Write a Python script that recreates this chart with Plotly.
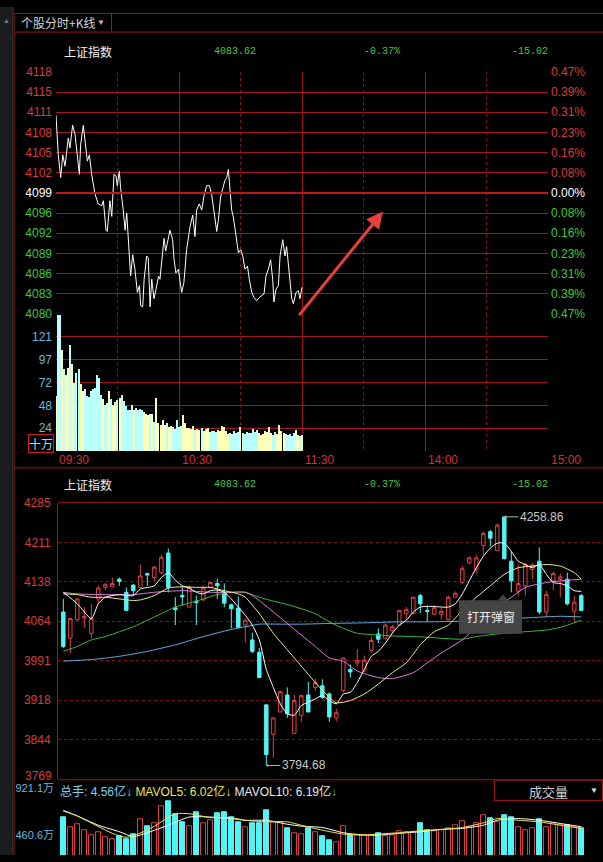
import numpy as np
import plotly.graph_objects as go

W, H = 603, 862
def px(x): return x / W
def py(y): return 1 - y / H

# ---------------- data ----------------
index_name = "上证指数"
last_price = "4083.62"
pct_change = "-0.37%"
abs_change = "-15.02"
prev_close = 4098.64
band_pct = 0.47

intraday_minutes = [0, 1.1, 2.3, 3.3, 4.4, 6.0, 6.8, 8.1, 9.3, 10.4,
    11.4, 12.0, 13.3, 15.3, 16.3, 17.4, 19.0, 20.6, 22.3, 23.1,
    24.4, 25.0, 26.3, 27.2, 28.3, 29.3, 29.9, 30.9, 31.5, 32.8,
    33.7, 34.5, 35.3, 36.4, 37.4, 38.5, 39.7, 40.7, 41.3, 42.3,
    43.0, 44.2, 45.0, 45.9, 46.7, 47.8, 48.8, 50.0, 50.7, 52.0,
    52.7, 53.5, 54.5, 55.6, 56.9, 57.6, 58.5, 59.7, 61.3, 62.4,
    63.7, 64.6, 65.4, 66.7, 67.8, 68.6, 69.9, 71.1, 72.2, 73.5,
    74.8, 75.9, 77.1, 78.4, 79.2, 80.3, 81.3, 82.4, 83.3, 84.1,
    84.9, 85.7, 86.5, 87.8, 89.0, 90.1, 91.1, 92.2, 93.4, 94.3,
    95.5, 96.6, 97.9, 99.2, 100.3, 101.5, 102.4, 103.6, 104.7, 105.7,
    106.3, 107.3, 108.5, 109.3, 110.6, 111.7, 112.5, 113.8, 115.0, 115.8,
    117.1, 118.2, 119.0, 120.0]
intraday_prices = [4111.0, 4104.7, 4101.1, 4104.7, 4102.9, 4107.4, 4105.8, 4109.4, 4107.9, 4104.3,
    4101.6, 4106.3, 4109.4, 4103.7, 4104.7, 4101.6, 4098.5, 4096.9, 4096.6, 4097.4,
    4092.7, 4092.5, 4097.4, 4094.9, 4101.6, 4101.3, 4099.8, 4102.1, 4099.5, 4095.9,
    4092.7, 4095.4, 4091.2, 4085.4, 4088.8, 4086.5, 4082.8, 4083.9, 4080.7, 4080.5,
    4084.9, 4088.6, 4088.3, 4080.5, 4084.9, 4081.8, 4083.3, 4085.4, 4084.9, 4089.6,
    4091.4, 4089.4, 4091.2, 4092.7, 4091.2, 4088.0, 4085.9, 4086.5, 4082.8, 4084.4,
    4089.6, 4091.7, 4093.3, 4095.1, 4091.7, 4095.9, 4096.9, 4095.9, 4098.2, 4099.8,
    4099.8, 4098.5, 4095.4, 4092.5, 4094.3, 4098.0, 4099.3, 4100.6, 4101.1, 4102.4,
    4099.0, 4095.9, 4094.8, 4091.7, 4089.1, 4089.6, 4088.6, 4086.5, 4087.0, 4084.9,
    4082.8, 4082.0, 4081.5, 4082.0, 4082.3, 4082.6, 4085.4, 4086.5, 4088.0, 4084.9,
    4081.3, 4083.3, 4083.9, 4088.6, 4091.2, 4088.6, 4090.1, 4085.9, 4081.8, 4081.0,
    4082.8, 4083.1, 4081.8, 4083.62]
minute_volume = [58.8, 143.8, 143.8, 107.4, 86.6, 80.7, 88.3, 111.9, 92.4, 72.7,
    83.1, 86.6, 71.0, 64.0, 65.8, 58.8, 57.0, 64.0, 65.8, 67.4,
    80.7, 77.9, 59.8, 55.4, 48.4, 50.8, 63.3, 55.4, 49.4, 51.8,
    54.3, 56.4, 59.8, 53.6, 47.4, 43.9, 43.2, 48.4, 43.9, 46.0,
    43.9, 45.0, 43.9, 41.4, 39.8, 38.7, 39.0, 39.8, 31.0, 56.4,
    30.0, 27.6, 32.8, 27.6, 30.0, 25.8, 26.5, 25.8, 23.1, 32.8,
    25.8, 26.5, 38.0, 30.0, 24.1, 24.1, 23.1, 26.5, 22.4, 23.1,
    22.4, 24.1, 21.7, 23.1, 24.1, 20.6, 21.7, 21.7, 20.6, 22.4,
    21.7, 26.5, 25.8, 21.7, 18.2, 19.6, 18.2, 21.7, 19.6, 20.6,
    25.2, 19.6, 18.2, 20.6, 19.6, 19.0, 23.1, 20.6, 22.4, 19.6,
    17.2, 18.2, 21.7, 20.6, 25.2, 19.0, 17.2, 20.6, 18.2, 27.6,
    21.7, 19.6, 18.2, 17.2, 18.2, 16.1, 19.0, 22.4, 17.2, 16.1, 17.2]
price_tick_text = ["4118", "4115", "4111", "4108", "4105", "4102", "4099",
                   "4096", "4092", "4089", "4086", "4083", "4080"]
pct_tick_text = ["0.47%", "0.39%", "0.31%", "0.23%", "0.16%", "0.08%", "0.00%",
                 "0.08%", "0.16%", "0.23%", "0.31%", "0.39%", "0.47%"]
minvol_tick_vals = [24.2, 48.4, 72.6, 96.8, 121.0]
minvol_tick_text = ["24", "48", "72", "97", "121"]
minvol_max = 145.2
time_ticks = [0, 60, 120, 180, 240]
time_minor = [30, 90, 150, 210]
time_labels = ["09:30", "10:30", "11:30", "14:00", "15:00"]

k_open = [4081.2, 4032.2, 4067.1, 4070.0, 4041.4, 4105.6, 4127.1, 4128.3, 4142.4, 4117.9,
    4131.4, 4127.1, 4152.8, 4145.4, 4154.6, 4191.3, 4089.1, 4111.8, 4090.4, 4101.4,
    4103.8, 4127.1, 4134.4, 4117.9, 4094.6, 4088.5, 4056.7, 4029.1, 4005.9, 3907.9,
    3852.9, 3894.5, 3926.3, 3854.7, 3888.4, 3926.3, 3940.4, 3943.5, 3928.1, 3883.5,
    3934.3, 3974.1, 3986.3, 3971.0, 4009.6, 4040.2, 4032.2, 4046.3, 4056.7, 4078.1,
    4078.1, 4111.8, 4084.2, 4076.9, 4076.9, 4067.1, 4108.7, 4136.3, 4173.0, 4160.7,
    4205.4, 4231.1, 4195.6, 4258.7, 4176.0, 4119.7, 4130.1, 4160.7, 4176.0, 4081.2,
    4139.3, 4142.4, 4142.4, 4083.0, 4111.8]
k_high = [4105.6, 4070.0, 4106.0, 4090.0, 4096.5, 4130.1, 4136.2, 4145.4, 4145.4, 4127.1,
    4133.2, 4170.0, 4154.6, 4166.9, 4188.3, 4199.3, 4108.7, 4128.3, 4130.1, 4111.8,
    4130.1, 4136.2, 4143.6, 4134.4, 4096.5, 4110.0, 4069.0, 4042.6, 4013.8, 3907.9,
    3883.5, 3934.3, 3940.4, 3926.3, 3926.3, 3950.8, 3956.9, 3955.7, 3931.2, 3900.6,
    3995.5, 3983.2, 4012.0, 3999.8, 4035.3, 4050.6, 4059.8, 4056.7, 4084.2, 4090.4,
    4108.7, 4114.8, 4093.4, 4093.4, 4088.5, 4111.8, 4119.7, 4166.9, 4185.2, 4188.3,
    4231.1, 4234.2, 4246.4, 4258.86, 4194.4, 4170.0, 4173.0, 4173.0, 4201.7, 4121.0,
    4156.5, 4152.8, 4154.6, 4111.8, 4114.8]
k_low = [4013.9, 4004.7, 4064.6, 4052.0, 4032.2, 4097.7, 4122.2, 4127.1, 4130.1, 4082.4,
    4111.8, 4127.1, 4130.1, 4139.3, 4151.6, 4117.9, 4056.7, 4093.4, 4090.4, 4056.7,
    4101.4, 4125.9, 4105.6, 4090.4, 4050.6, 4050.6, 4024.2, 4004.7, 3958.7, 3794.68,
    3808.8, 3894.5, 3883.5, 3854.7, 3876.1, 3894.5, 3934.3, 3919.0, 3876.1, 3877.3,
    3931.2, 3958.7, 3980.2, 3971.0, 4004.7, 4023.0, 4032.2, 4041.4, 4054.8, 4065.9,
    4076.9, 4079.3, 4062.8, 4075.0, 4067.1, 4065.9, 4107.5, 4133.2, 4169.9, 4152.8,
    4188.3, 4203.6, 4195.6, 4179.1, 4117.9, 4111.8, 4111.8, 4142.4, 4076.9, 4072.0,
    4122.2, 4108.7, 4093.4, 4062.8, 4083.0]
k_close = [4016.9, 4068.9, 4105.6, 4073.0, 4068.9, 4125.9, 4132.0, 4134.4, 4138.1, 4084.2,
    4121.0, 4148.5, 4150.3, 4165.0, 4183.4, 4127.1, 4085.5, 4109.4, 4127.1, 4099.0,
    4125.9, 4136.2, 4130.1, 4097.7, 4087.3, 4052.4, 4065.9, 4007.7, 3958.7, 3814.9,
    3883.5, 3932.4, 3891.4, 3915.9, 3925.1, 3894.5, 3949.6, 3922.0, 3885.3, 3893.3,
    3995.5, 3969.2, 3991.2, 3991.2, 4028.1, 4030.4, 4056.7, 4053.6, 4084.2, 4085.5,
    4108.7, 4096.5, 4082.4, 4089.1, 4082.4, 4108.7, 4116.1, 4161.9, 4182.2, 4182.2,
    4228.1, 4218.9, 4243.4, 4180.9, 4139.3, 4134.4, 4169.9, 4168.7, 4081.2, 4113.6,
    4152.8, 4146.7, 4096.5, 4099.5, 4084.2]
k_volume = [662, 573, 598, 540, 492, 515, 470, 451, 477, 454,
    502, 650, 583, 611, 774, 822, 694, 621, 583, 717,
    605, 636, 707, 717, 669, 617, 566, 605, 605, 732,
    621, 621, 557, 509, 505, 557, 515, 483, 444, 419,
    579, 486, 492, 492, 492, 509, 483, 492, 525, 515,
    515, 605, 540, 534, 540, 557, 588, 630, 573, 611,
    684, 653, 621, 684, 662, 566, 540, 557, 643, 573,
    605, 588, 588, 573, 557]
k_tick_text = ["4285", "4211", "4138", "4064", "3991", "3918", "3844", "3769"]
k_top, k_bottom = 4285, 3769
k_high_label = "4258.86"
k_low_label = "3794.68"

ma5_idx = [0, 2, 4, 5, 6, 8, 10, 11] + list(range(13, 75))
ma5_val = [4118.0, 4096.5, 4068.9, 4096.5, 4108.7, 4113.6, 4111.8, 4124.0,
    4130.1, 4145.4, 4154.6, 4140.6, 4130.1, 4125.9, 4118.0, 4114.9, 4121.0, 4122.2,
    4118.0, 4105.6, 4090.4, 4075.0, 4056.7, 4029.1, 3974.1, 3940.4, 3909.8, 3891.4,
    3888.4, 3906.7, 3912.8, 3919.0, 3925.1, 3915.9, 3909.8, 3928.1, 3931.2, 3949.6,
    3974.1, 3998.5, 4007.7, 4023.0, 4041.4, 4056.7, 4065.9, 4081.2, 4090.4, 4091.6,
    4091.6, 4090.4, 4090.4, 4096.5, 4114.9, 4139.3, 4163.8, 4185.2, 4200.5, 4209.7,
    4209.7, 4194.4, 4176.0, 4169.9, 4163.8, 4169.9, 4151.6, 4136.2, 4134.4, 4130.1,
    4121.0, 4119.7]
ma10_idx = [0, 2, 4, 6, 8, 10, 11, 13, 15, 17, 19, 21, 23, 25, 26, 28, 30, 32, 34, 36,
    38, 39, 41, 43, 45, 47, 49, 51, 53, 55, 57, 59, 61, 63, 65, 67, 69, 71, 73, 74]
ma10_val = [4114.9, 4113.6, 4108.7, 4108.7, 4105.6, 4102.6, 4103.8, 4111.8, 4125.9, 4128.3,
    4127.1, 4127.1, 4121.0, 4114.9, 4108.7, 4078.1, 4041.4, 4010.8, 3980.2, 3949.6,
    3922.0, 3911.6, 3915.9, 3928.1, 3946.5, 3968.0, 3986.3, 4019.9, 4044.4, 4056.7,
    4084.2, 4108.7, 4130.1, 4151.6, 4163.8, 4166.9, 4169.9, 4166.9, 4154.6, 4142.4]
ma20_idx = [0, 2, 6, 10, 13, 17, 21, 24, 26, 27, 28, 30, 32, 34, 36, 38, 40, 42, 45, 47,
    50, 52, 54, 57, 59, 62, 64, 66, 69, 71, 74]
ma20_val = [4118.0, 4114.9, 4113.6, 4113.6, 4118.0, 4121.0, 4118.0, 4118.0, 4118.0, 4111.8,
    4102.6, 4081.2, 4059.8, 4038.3, 4016.9, 3995.5, 3989.4, 3971.0, 3958.8, 3956.9,
    3968.0, 3986.3, 4004.7, 4029.1, 4053.6, 4090.4, 4108.7, 4127.1, 4136.2, 4139.3, 4142.4]
ma30_idx = [0, 2, 4, 6, 8, 10, 12, 14, 16, 18, 20, 22, 24, 26, 28, 30, 32, 34, 36, 38,
    40, 42, 45, 47, 50, 52, 54, 57, 59, 62, 64, 66, 69, 71, 74]
ma30_val = [4007.7, 4016.9, 4029.1, 4035.3, 4044.4, 4053.6, 4065.9, 4078.1, 4090.4, 4097.7,
    4105.6, 4113.6, 4118.0, 4118.0, 4108.7, 4101.4, 4095.3, 4087.3, 4078.1, 4062.8,
    4050.6, 4041.4, 4038.3, 4036.5, 4035.3, 4034.1, 4032.2, 4030.4, 4035.3, 4040.2,
    4042.6, 4044.4, 4047.5, 4052.4, 4065.9]
ma60_idx = [0, 4, 8, 12, 16, 20, 24, 26, 28, 31, 34, 38, 43, 48, 52, 57, 62, 67, 71, 74]
ma60_val = [3989.4, 3992.4, 3998.5, 4007.7, 4019.9, 4035.3, 4048.7, 4053.6, 4058.5, 4058.5,
    4058.5, 4059.8, 4061.0, 4062.8, 4062.8, 4064.0, 4067.1, 4070.8, 4073.2, 4072.0]

mavol5_idx = [0, 2, 7, 9, 12, 14, 16, 18, 21, 24, 26, 29, 32, 34, 37, 40, 43, 45, 48, 51,
    54, 57, 60, 62, 65, 68, 71, 74]
mavol5_val = [727, 678, 509, 470, 540, 621, 700, 700, 662, 662, 636, 621, 621, 588, 540,
    502, 492, 502, 515, 534, 547, 566, 611, 653, 636, 621, 588, 557]
mavol10_idx = [0, 2, 5, 8, 10, 12, 15, 18, 21, 24, 26, 29, 32, 34, 37, 40, 43, 45, 48, 51,
    54, 57, 60, 62, 65, 68, 71, 74]
mavol10_val = [733, 678, 588, 525, 477, 515, 588, 668, 668, 653, 636, 636, 598, 579, 566,
    515, 492, 492, 509, 525, 547, 557, 588, 636, 653, 636, 605, 573]
vol_tick_vals = [921.1, 460.6]
vol_tick_text = ["921.1万", "460.6万"]
vol_legend = ["总手: 4.56亿↓", "MAVOL5: 6.02亿↓", "MAVOL10: 6.19亿", "↓"]

# ---------------- styles ----------------
BG = "#000000"
GRID = "#a3141e"
GRID_DIM = "#781818"
RED_TXT = "#d83c3c"
GREEN_TXT = "#3cc83c"
UP = "#e04040"
DOWN = "#50f4f4"
VOLBLUE = "#6ab8dc"
SANS = "Liberation Sans, Noto Sans CJK SC, sans-serif"
CJK = "Noto Sans CJK SC, sans-serif"
MONO = "Liberation Mono, DejaVu Sans Mono, monospace"

fig = go.Figure()

# intraday price line
fig.add_trace(go.Scatter(x=intraday_minutes, y=intraday_prices, mode="lines",
                         line=dict(color="#ffffff", width=1), xaxis="x", yaxis="y",
                         hoverinfo="skip"))
# invisible trace to keep right axis alive
fig.add_trace(go.Scatter(x=[None], y=[None], xaxis="x", yaxis="y2", showlegend=False))

# intraday minute volume
mins = np.arange(len(minute_volume))
p_now = np.interp(mins, intraday_minutes, intraday_prices)
p_prev = np.interp(np.maximum(mins - 1, 0), intraday_minutes, intraday_prices)
mv_colors = ["#ffffb8" if a >= b else "#b8ffff" for a, b in zip(p_now, p_prev)]
fig.add_trace(go.Bar(x=mins, y=minute_volume, width=0.5, marker=dict(color=mv_colors, line=dict(width=0)),
                     xaxis="x2", yaxis="y3", hoverinfo="skip"))

# K-line
kidx = np.arange(len(k_open))
fig.add_trace(go.Candlestick(x=kidx, open=k_open, high=k_high, low=k_low, close=k_close,
                             xaxis="x3", yaxis="y4", whiskerwidth=0,
                             increasing=dict(line=dict(color=UP, width=1), fillcolor=BG),
                             decreasing=dict(line=dict(color=DOWN, width=1), fillcolor=DOWN),
                             hoverinfo="skip"))
for ix, iv, col in [(ma60_idx, ma60_val, "#5aaee0"), (ma30_idx, ma30_val, "#3cb83c"),
                    (ma20_idx, ma20_val, "#e07ce0"), (ma10_idx, ma10_val, "#f0f08c"),
                    (ma5_idx, ma5_val, "#ffffff")]:
    fig.add_trace(go.Scatter(x=ix, y=iv, mode="lines", line=dict(color=col, width=1, shape="spline", smoothing=0.6),
                             xaxis="x3", yaxis="y4", hoverinfo="skip"))

# daily volume
vup = [c >= o for o, c in zip(k_open, k_close)]
fig.add_trace(go.Bar(x=kidx, y=k_volume, width=0.7,
                     marker=dict(color=[BG if u else DOWN for u in vup],
                                 line=dict(color=[UP if u else DOWN for u in vup], width=1)),
                     xaxis="x4", yaxis="y5", hoverinfo="skip"))
for ix, iv, col in [(mavol10_idx, mavol10_val, "#ffffff"), (mavol5_idx, mavol5_val, "#e8e850")]:
    fig.add_trace(go.Scatter(x=ix, y=iv, mode="lines", line=dict(color=col, width=1, shape="spline", smoothing=0.6),
                             xaxis="x4", yaxis="y5", hoverinfo="skip"))

# ---------------- axes ----------------
half = prev_close * band_pct / 100
step = half / 6
p_ticks = [prev_close + k * step for k in range(6, -7, -1)]
def colorize(texts):
    out = []
    for i, t in enumerate(texts):
        c = RED_TXT if i < 6 else ("#ffffff" if i == 6 else GREEN_TXT)
        out.append(f"<span style='color:{c}'>{t}</span>")
    return out

k_ticks = list(np.linspace(k_top, k_bottom, len(k_tick_text)))
vol_bottom = 297.8
vol_top = 1026.6

common_x = dict(range=[0, 240], tickvals=time_ticks, showticklabels=False, ticks="",
                showgrid=True, gridcolor=GRID, gridwidth=1, zeroline=False,
                minor=dict(tickvals=time_minor, showgrid=True, gridcolor=GRID_DIM, griddash="dot", gridwidth=1),
                fixedrange=True)

fig.update_layout(
    width=W, height=H, margin=dict(l=0, r=0, t=0, b=0), autosize=False,
    paper_bgcolor=BG, plot_bgcolor=BG, showlegend=False,
    font=dict(family=SANS, size=12, color="#c8c8c8"),
    barmode="overlay", bargap=0,
    xaxis=dict(domain=[px(56), px(548)], anchor="y", **common_x),
    yaxis=dict(domain=[py(312), py(66)], anchor="x", range=[prev_close - half, prev_close + half],
               tickvals=p_ticks, ticktext=colorize(price_tick_text), ticks="", ticklabelstandoff=3,
               showgrid=True, gridcolor=GRID, gridwidth=1, zeroline=False,
               tickfont=dict(family=SANS, size=12)),
    yaxis2=dict(overlaying="y", anchor="x", side="right", range=[prev_close - half, prev_close + half],
                tickvals=p_ticks, ticktext=colorize(pct_tick_text), ticks="", ticklabelstandoff=2,
                showgrid=False, zeroline=False, tickfont=dict(family=SANS, size=12)),
    xaxis2=dict(domain=[px(56), px(548)], anchor="y3", **common_x),
    yaxis3=dict(domain=[py(451.5), py(312)], anchor="x2", range=[0, minvol_max],
                tickvals=[0] + minvol_tick_vals, ticktext=[""] + minvol_tick_text, ticks="",
                ticklabelstandoff=3, showgrid=True, gridcolor=GRID, gridwidth=1, zeroline=False,
                tickfont=dict(family=SANS, size=12, color=VOLBLUE)),
    xaxis3=dict(domain=[px(58), 1], anchor="y4", range=[-0.76, 77.1], showticklabels=False,
                showgrid=False, zeroline=False, rangeslider=dict(visible=False), ticks=""),
    yaxis4=dict(domain=[py(785), py(504)], anchor="x3", range=[k_bottom, k_top],
                tickvals=k_ticks, ticktext=k_tick_text[:-1] + [""], ticks="", ticklabelstandoff=4,
                showgrid=True, gridcolor=GRID_DIM, griddash="dot", gridwidth=1, zeroline=False,
                showline=True, linecolor=GRID, linewidth=1,
                tickfont=dict(family=SANS, size=12, color=RED_TXT)),
    xaxis4=dict(domain=[px(58), 1], anchor="y5", range=[-0.76, 77.1], showticklabels=False,
                showgrid=False, zeroline=False, ticks=""),
    yaxis5=dict(domain=[0, py(786)], anchor="x4", range=[vol_bottom, vol_top],
                tickvals=vol_tick_vals, ticktext=vol_tick_text, ticks="", ticklabelstandoff=3,
                showgrid=False, zeroline=False, ticklabelshift=-3,
                tickfont=dict(family=SANS, size=11, color=VOLBLUE)),
)

# ---------------- shapes ----------------
shapes = []
def pline(x0, y0, x1, y1, color=GRID, width=1, dash=None):
    d = dict(type="line", xref="paper", yref="paper", x0=px(x0), y0=py(y0), x1=px(x1), y1=py(y1),
             line=dict(color=color, width=width))
    if dash:
        d["line"]["dash"] = dash
    shapes.append(d)

shapes.append(dict(type="rect", xref="paper", yref="paper", x0=0, x1=px(13), y0=0, y1=1,
                   fillcolor="#1c1c1c", line=dict(width=0), layer="below"))
pline(13, 0, 13, 862, color="#3a3a3a")
pline(14.5, 6, 14.5, 862, color="#5a1010")
pline(14, 6.5, 603, 6.5)
pline(14, 25.5, 603, 25.5)
pline(111.5, 6, 111.5, 25)
pline(14, 468.5, 603, 468.5)
pline(58, 503.5, 603, 503.5)
pline(58, 785.5, 603, 785.5)
# previous-close line
shapes.append(dict(type="line", xref="paper", yref="y", x0=px(56), x1=px(548), y0=prev_close, y1=prev_close,
                   line=dict(color="#c0161e", width=2)))
# 成交量 box
shapes.append(dict(type="rect", xref="paper", yref="paper", x0=px(494.5), x1=px(602.5), y0=py(806.5), y1=py(786),
                   line=dict(color=GRID, width=1), fillcolor=BG))
# tooltip box
shapes.append(dict(type="rect", xref="paper", yref="paper", x0=px(459), x1=px(522), y0=py(637), y1=py(603),
                   fillcolor="rgba(72,72,72,0.95)", line=dict(width=0)))
shapes.append(dict(type="path", xref="paper", yref="paper",
                   path=f"M {px(498)} {py(603)} L {px(503)} {py(597)} L {px(508)} {py(603)} Z",
                   fillcolor="rgba(72,72,72,0.95)", line=dict(width=0)))
fig.update_layout(shapes=shapes)

# ---------------- annotations ----------------
ann = []
def text(x, y, t, size=12, color="#c8c8c8", family=SANS, xanchor="left", **kw):
    ann.append(dict(x=px(x), y=py(y), xref="paper", yref="paper", text=t, showarrow=False,
                    xanchor=xanchor, yanchor="middle", font=dict(size=size, color=color, family=family), **kw))

text(6.5, 14, "▲", size=7, color="#7a7a7a", xanchor="center")
text(19, 16, "个股分时+K线", size=12, color="#d4d4d4", family=CJK)
text(101, 16, "▼", size=8, color="#e0a8d8", xanchor="center")
for yy in (45, 485):
    text(62, yy, index_name, size=12, color="#f0f0f0", family=CJK)
    text(212, yy, last_price, size=10, color="#44c844", family=MONO)
    text(362, yy, pct_change, size=10, color="#44c844", family=MONO)
    text(510, yy, abs_change, size=10, color="#44c844", family=MONO)

text(40.5, 444, "十万", size=12, color="#a8d8f0", family=CJK, xanchor="center",
     bordercolor="#c81e1e", borderwidth=1, borderpad=0)

# bottom K-line price label, nudged up slightly so it clears the volume label
ann.append(dict(x=px(54), y=k_bottom, xref="paper", yref="y4", text=k_tick_text[-1], showarrow=False,
                xanchor="right", yanchor="middle", yshift=3,
                font=dict(size=12, color=RED_TXT, family=SANS)))

for tv, tl in zip(time_ticks, time_labels):
    ann.append(dict(x=tv, y=py(460), xref="x", yref="paper", text=tl, showarrow=False,
                    xanchor="left", yanchor="middle", xshift=1,
                    font=dict(size=12, color="#d83030", family=SANS)))

legend_html = (f"<span style='color:#7ad4ee'>{vol_legend[0]}</span> "
               f"<span style='color:#e8e850'>{vol_legend[1]}</span> "
               f"<span style='color:#e8e8e8'>{vol_legend[2]}</span>"
               f"<span style='color:#40c040'>{vol_legend[3]}</span>")
text(58, 797, legend_html, size=12, family=SANS)
text(548, 797, "成交量", size=13, color="#d0d0d0", family=CJK, xanchor="center")
text(594, 796, "▼", size=8, color="#e0e0e0", xanchor="center")
text(490.5, 619.5, "打开弹窗", size=12, color="#ececec", family=CJK, xanchor="center")

# high / low markers
ann.append(dict(x=int(np.argmax(k_high)), y=max(k_high), xref="x3", yref="y4", text=k_high_label,
                showarrow=True, ax=14, ay=0, xanchor="left", yanchor="middle",
                arrowcolor="#b4b4b4", arrowwidth=1, arrowhead=1, arrowsize=0.6, standoff=0,
                font=dict(size=12, color="#c8c8c8", family=SANS)))
ann.append(dict(x=int(np.argmin(k_low)), y=min(k_low), xref="x3", yref="y4", text=k_low_label,
                showarrow=True, ax=14, ay=0, xanchor="left", yanchor="middle",
                arrowcolor="#b4b4b4", arrowwidth=1, arrowhead=1, arrowsize=0.6, standoff=0,
                font=dict(size=12, color="#c8c8c8", family=SANS)))

# red pointer arrow
ann.append(dict(x=px(383), y=py(208), xref="paper", yref="paper", text="", showarrow=True,
                ax=-85, ay=105, arrowcolor="#e8403c", arrowwidth=3, arrowhead=2, arrowsize=1.1))

fig.update_layout(annotations=ann)

page_fix = (
    "document.documentElement.style.margin='0px';"
    "document.documentElement.style.overflow='hidden';"
    "document.body.style.margin='0px';document.body.style.padding='0px';"
    "document.body.style.overflow='hidden';"
    "var gd=document.querySelector('.plotly-graph-div');"
    "if(gd){gd.style.position='fixed';gd.style.top='0px';gd.style.left='0px';"
    "if(gd.parentElement){gd.parentElement.style.lineHeight='0';gd.parentElement.style.fontSize='0';}}"
)
fig.write_html("out.html", config={"displayModeBar": False}, post_script=page_fix)
